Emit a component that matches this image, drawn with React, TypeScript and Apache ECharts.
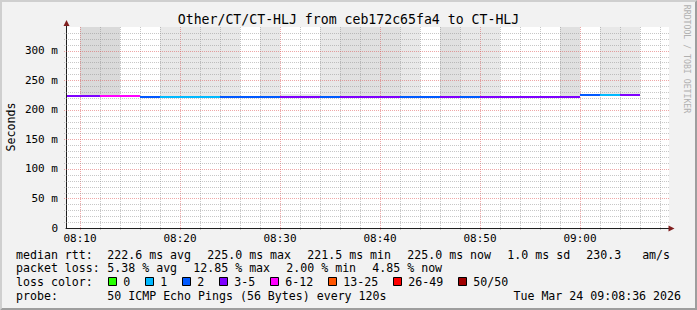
import React, { useEffect, useRef } from 'react';
import * as echarts from 'echarts';

const W = 697;
const H = 310;
const FONT = "'DejaVu Sans Mono', monospace";

const titleText = 'Other/CT/CT-HLJ from ceb172c65fa4 to CT-HLJ';
const yAxisName = 'Seconds';
const creditText = 'RRDTOOL / TOBI OETIKER';

// time axis (minutes of the day)
const axisStart = '08:08:36';
const axisEnd = '09:08:54';
const xLabelTimes = ['08:10', '08:20', '08:30', '08:40', '08:50', '09:00'];
const yMin = 0;
const yMax = 340;
const yLabelStep = 50;

// 2-minute bins
const binStarts = [
  '08:08', '08:10', '08:12', '08:14', '08:16', '08:18', '08:20', '08:22', '08:24', '08:26',
  '08:28', '08:30', '08:32', '08:34', '08:36', '08:38', '08:40', '08:42', '08:44', '08:46',
  '08:48', '08:50', '08:52', '08:54', '08:56', '08:58', '09:00', '09:02', '09:04',
];
const medianMs = [
  223.6, 223.6, 223.5, 223.4, 222.2, 222.0, 221.9, 221.9, 222.1, 222.0,
  222.2, 222.3, 222.1, 222.4, 222.3, 222.2, 222.0, 222.1, 222.3, 222.2,
  221.9, 222.0, 221.5, 221.8, 222.0, 222.3, 225.0, 225.0, 225.0,
];
const lossPct = [
  6.4, 7.2, 12.85, 12.0, 4.0, 2.0, 2.0, 2.0, 4.0, 4.0,
  4.0, 6.0, 6.4, 4.0, 6.2, 7.0, 6.0, 4.0, 4.0, 6.4,
  4.0, 6.0, 6.2, 6.6, 6.0, 8.0, 4.0, 2.0, 6.0,
];
const smokeMinMs = [
  222.8, 222.8, 222.7, 222.6, 221.6, 221.4, 221.3, 221.3, 221.5, 221.4,
  221.6, 221.7, 221.5, 221.8, 221.7, 221.6, 221.4, 221.5, 221.7, 221.6,
  221.3, 221.4, 220.9, 221.2, 221.4, 221.7, 224.3, 224.3, 224.3,
];
const smokeMaxMs = [
  224.0, 980, 1120, 224.2, 223.0, 760, 720, 690, 740, 222.8,
  700, 226.0, 226.0, 730, 900, 880, 910, 760, 223.1, 940,
  750, 720, 222.3, 222.6, 222.8, 960, 225.8, 740, 770,
];
// density of the smoke (0 = none visible, 3 = densest)
const smokeDensity = [
  0, 3, 3, 0, 0, 1, 1, 1, 1, 0,
  1, 1, 1, 1, 2, 2, 2, 1, 0, 2,
  1, 1, 0, 0, 0, 2, 0, 1, 1,
];

// legend
const rttLabel = 'median rtt:';
const rttStats = ['222.6 ms avg', '225.0 ms max', '221.5 ms min', '225.0 ms now', '1.0 ms sd', '230.3   am/s'];
const lossLabel = 'packet loss:';
const lossStats = ['5.38 % avg', '12.85 % max', '2.00 % min', '4.85 % now'];
const lossColorLabel = 'loss color:';
const lossBucketNames = ['0', '1', '2', '3-5', '6-12', '13-25', '26-49', '50/50'];
const lossBucketMin = [0, 1, 2, 3, 6, 13, 26, 50];
const lossBucketColors = ['#26ff00', '#00b8ff', '#0059ff', '#7e00ff', '#ff00ff', '#ff5500', '#ff0000', '#a10000'];
const probeLabel = 'probe:';
const probeText = '50 ICMP Echo Pings (56 Bytes) every 120s';
const pingsPerRound = 50;
const stampText = 'Tue Mar 24 09:08:36 2026';

const binMinutes = 2;
const smokeColors = ['#ffffff', '#e8e8e8', '#e0e0e0', '#dadada'];

const toMin = (s: string) => {
  const p = s.split(':').map(Number);
  return p[0] * 60 + p[1] + (p[2] || 0) / 60;
};
const fmtMin = (v: number) => {
  const h = Math.floor(v / 60);
  const m = Math.round(v - h * 60);
  return String(h).padStart(2, '0') + ':' + String(m).padStart(2, '0');
};
const bucketOf = (pct: number) => {
  const pings = Math.round((pct * pingsPerRound) / 100);
  let idx = 0;
  lossBucketMin.forEach((m, i) => {
    if (pings >= m) idx = i;
  });
  return idx;
};

export default function App() {
  const ref = useRef<HTMLDivElement>(null);

  useEffect(() => {
    if (!ref.current) return;
    const chart = echarts.init(ref.current, undefined, { renderer: 'svg' });

    const xMin = toMin(axisStart);
    const xMax = toMin(axisEnd);
    const GRID = { left: 66, top: 27, right: 28, bottom: 82 };

    const binData = binStarts.map((s, i) => {
      const t = toMin(s);
      return [t, t + binMinutes, smokeMinMs[i], smokeMaxMs[i], smokeDensity[i], medianMs[i], lossPct[i]];
    });

    const clipX = (x: number, cs: any) => Math.min(Math.max(x, cs.x + 1), cs.x + cs.width);
    const clipY = (y: number, cs: any) => Math.min(Math.max(y, cs.y), cs.y + cs.height);

    const smokeSeries = {
      type: 'custom',
      z: 1,
      silent: true,
      encode: { x: [0, 1], y: [2, 3] },
      data: binData,
      renderItem: (params: any, api: any) => {
        const cs = params.coordSys;
        const a = api.coord([api.value(0), api.value(2)]);
        const b = api.coord([api.value(1), api.value(3)]);
        const x0 = Math.round(clipX(a[0], cs));
        const x1 = Math.round(clipX(b[0], cs));
        const yb = Math.round(clipY(a[1], cs));
        const yt = Math.round(clipY(b[1], cs));
        const lvl = api.value(4);
        if (x1 <= x0 || yb <= yt || lvl === 0) return { type: 'group', children: [] };
        return {
          type: 'rect',
          shape: { x: x0, y: yt, width: x1 - x0, height: yb - yt },
          style: { fill: smokeColors[lvl] },
        };
      },
    };

    const gridSeries = {
      type: 'custom',
      z: 3,
      silent: true,
      encode: { x: 0, y: 1 },
      data: [[xMin, yMin]],
      renderItem: (params: any, api: any) => {
        const cs = params.coordSys;
        const children: any[] = [];
        const minorStroke = 'rgba(143,143,143,0.5)';
        const majorStroke = 'rgba(222,79,79,0.5)';
        // vertical
        for (let t = Math.ceil(xMin / binMinutes) * binMinutes; t <= xMax; t += binMinutes) {
          const x = Math.round(api.coord([t, yMin])[0]) + 0.5;
          const major = t % 10 === 0;
          children.push({
            type: 'line',
            shape: { x1: x, y1: cs.y, x2: x, y2: cs.y + cs.height + 2 },
            style: { stroke: major ? majorStroke : minorStroke, lineWidth: 1, lineDash: [1, 1] },
          });
        }
        // horizontal
        for (let v = yMin + 10; v < yMax; v += 10) {
          const y = Math.round(api.coord([xMin, v])[1]) + 0.5;
          const major = v % yLabelStep === 0;
          children.push({
            type: 'line',
            shape: { x1: cs.x - 2, y1: y, x2: cs.x + cs.width, y2: y },
            style: { stroke: major ? majorStroke : minorStroke, lineWidth: 1, lineDash: [1, 1] },
          });
        }
        return { type: 'group', children };
      },
    };

    const medianSeries = {
      type: 'custom',
      z: 5,
      silent: true,
      encode: { x: [0, 1], y: 5 },
      data: binData,
      renderItem: (params: any, api: any) => {
        const cs = params.coordSys;
        const a = api.coord([api.value(0), api.value(5)]);
        const b = api.coord([api.value(1), api.value(5)]);
        const x0 = Math.round(clipX(a[0], cs));
        const x1 = Math.round(clipX(b[0], cs));
        const y = Math.round(a[1]);
        const color = lossBucketColors[bucketOf(api.value(6))];
        return {
          type: 'rect',
          shape: { x: x0, y: y - 1, width: x1 - x0, height: 2 },
          style: { fill: color },
        };
      },
    };

    // legend graphics
    const CH = 7;
    const GAP = 16;
    const LEFT = 16;
    const COL = 107.3;
    const rows = [254.5, 268.2, 281.9, 295.6];
    const txt = (text: string, x: number, y: number, extra: any = {}) => ({
      type: 'text',
      x,
      y,
      z: 100,
      silent: true,
      style: {
        text,
        fontFamily: FONT,
        fontSize: 11.6,
        fill: '#000',
        align: 'left',
        verticalAlign: 'middle',
        ...extra,
      },
    });
    const legend: any[] = [];
    legend.push(txt(rttLabel, LEFT, rows[0]));
    let x = COL;
    rttStats.forEach((s) => {
      legend.push(txt(s, x, rows[0]));
      x += s.length * CH + GAP;
    });
    legend.push(txt(lossLabel, LEFT, rows[1]));
    x = COL;
    lossStats.forEach((s) => {
      legend.push(txt(s, x, rows[1]));
      x += s.length * CH + GAP;
    });
    legend.push(txt(lossColorLabel, LEFT, rows[2]));
    x = 108;
    lossBucketNames.forEach((s, i) => {
      const sx = Math.round(x) + 0.5;
      legend.push({
        type: 'rect',
        z: 100,
        silent: true,
        shape: { x: sx, y: rows[2] - 4.4, width: 8, height: 8 },
        style: { fill: lossBucketColors[i], stroke: '#000', lineWidth: 1 },
      });
      legend.push(txt(s, x + 15.3, rows[2]));
      x += 30 + CH * s.length;
    });
    legend.push(txt(probeLabel, LEFT, rows[3]));
    legend.push(txt(probeText, COL, rows[3]));
    legend.push(txt(stampText, 681, rows[3], { align: 'right' }));

    const frame: any[] = [
      {
        type: 'polygon',
        z: 100,
        silent: true,
        shape: { points: [[0, 0], [W, 0], [W - 2, 2], [2, 2], [2, H - 2], [0, H]] },
        style: { fill: '#cfcfcf' },
      },
      {
        type: 'polygon',
        z: 100,
        silent: true,
        shape: { points: [[W, 0], [W, H], [0, H], [2, H - 2], [W - 2, H - 2], [W - 2, 2]] },
        style: { fill: '#9e9e9e' },
      },
      // axis extensions and arrows
      {
        type: 'line',
        z: 100,
        silent: true,
        shape: { x1: 66.5, y1: 24, x2: 66.5, y2: 28 },
        style: { stroke: '#1f1f1f', lineWidth: 1 },
      },
      {
        type: 'polygon',
        z: 100,
        silent: true,
        shape: { points: [[66.5, 20], [63.5, 26], [69.5, 26]] },
        style: { fill: '#801f1f' },
      },
      {
        type: 'line',
        z: 100,
        silent: true,
        shape: { x1: 668, y1: 228.5, x2: 671, y2: 228.5 },
        style: { stroke: '#1f1f1f', lineWidth: 1 },
      },
      {
        type: 'polygon',
        z: 100,
        silent: true,
        shape: { points: [[674.5, 228.5], [668.5, 225.5], [668.5, 231.5]] },
        style: { fill: '#801f1f' },
      },
    ];

    const titles: any[] = [
      txt(titleText, W / 2, 19.2, { align: 'center', fontSize: 13.2 }),
      {
        type: 'text',
        x: 10.5,
        y: 127,
        z: 100,
        rotation: Math.PI / 2,
        silent: true,
        style: {
          text: yAxisName,
          fontFamily: FONT,
          fontSize: 11.6,
          fill: '#000',
          align: 'center',
          verticalAlign: 'middle',
        },
      },
      {
        type: 'text',
        x: 687,
        y: 59,
        z: 100,
        rotation: -Math.PI / 2,
        silent: true,
        style: {
          text: creditText,
          fontFamily: FONT,
          fontSize: 8.2,
          fill: '#b0b0b0',
          align: 'center',
          verticalAlign: 'middle',
        },
      },
    ];

    chart.setOption({
      animation: false,
      backgroundColor: '#f2f2f2',
      grid: {
        ...GRID,
        show: true,
        backgroundColor: '#ffffff',
        borderWidth: 0,
        containLabel: false,
      },
      xAxis: {
        type: 'value',
        min: xMin,
        max: xMax,
        axisLine: { show: true, onZero: false, lineStyle: { color: '#1f1f1f', width: 1 } },
        axisTick: { show: false },
        splitLine: { show: false },
        axisLabel: {
          customValues: xLabelTimes.map(toMin),
          formatter: (v: number) => fmtMin(v),
          fontFamily: FONT,
          fontSize: 11,
          color: '#000',
          margin: 5,
        },
      },
      yAxis: {
        type: 'value',
        min: yMin,
        max: yMax,
        interval: yLabelStep,
        axisLine: { show: true, lineStyle: { color: '#1f1f1f', width: 1 } },
        axisTick: { show: false },
        splitLine: { show: false },
        axisLabel: {
          showMaxLabel: false,
          formatter: (v: number) => (v === 0 ? '0' : v + ' m'),
          fontFamily: FONT,
          fontSize: 11,
          color: '#000',
          margin: 8,
        },
      },
      graphic: { elements: [...frame, ...titles, ...legend] },
      series: [smokeSeries, gridSeries, medianSeries],
    });

    return () => chart.dispose();
  }, []);

  return (
    <div
      ref={ref}
      style={{ position: 'fixed', left: 0, top: 0, width: W, height: H }}
    />
  );
}
